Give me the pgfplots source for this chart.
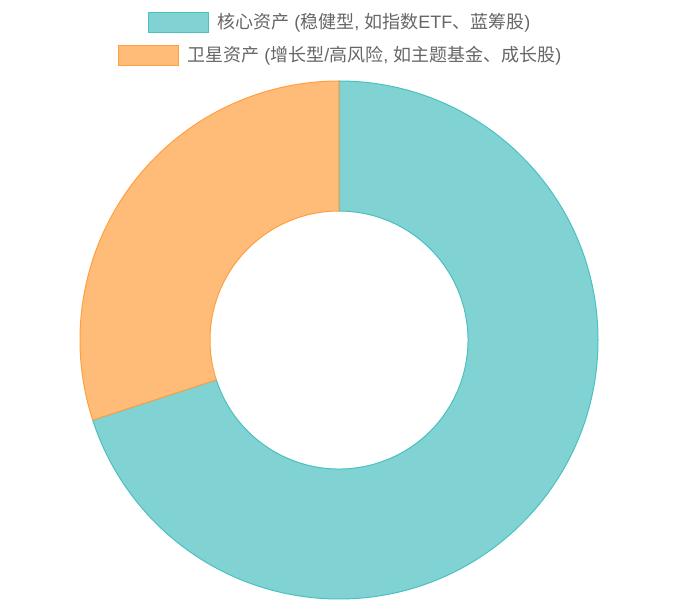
\documentclass[border=0pt]{standalone}
\usepackage{fontspec}
\setmainfont{Liberation Sans}
\newfontfamily\cjk{Noto Sans CJK SC}
\usepackage{pgfplots}
\usepackage{pgfplotstable}
\pgfplotsset{compat=1.18}
\definecolor{corefill}{HTML}{81D3D3}
\definecolor{coreline}{HTML}{4BC0C0}
\definecolor{satfill}{HTML}{FFBC79}
\definecolor{satline}{HTML}{FF9F40}
\definecolor{legtext}{HTML}{666666}

\pgfplotstableread{
part value
core 70
satellite 30
}\sharetable

\begin{document}
\begin{tikzpicture}
\pgfplotstablegetelem{0}{value}\of\sharetable \let\vcore\pgfplotsretval
\pgfplotstablegetelem{1}{value}\of\sharetable \let\vsat\pgfplotsretval
\pgfmathsetmacro{\total}{\vcore+\vsat}
% clockwise from the top, as in the source chart
\pgfmathsetmacro{\aA}{90}
\pgfmathsetmacro{\aB}{90-360*(\vcore/\total)}
\pgfmathsetmacro{\aC}{\aB-360*(\vsat/\total)}
\def\Rout{194.25pt}
\def\Rin{96.75pt}
\begin{axis}[
  x=0.75pt, y=0.75pt,
  xmin=0, xmax=679, ymin=0, ymax=600,
  hide axis, clip=false,
]
% keep the whole canvas in the bounding box
\path (axis cs:0,0) rectangle (axis cs:679,600);
\path (axis cs:339,260) coordinate (c);
\filldraw[fill=corefill, draw=coreline, line width=0.75pt]
  ([shift={(\aA:\Rout)}]c) arc[start angle=\aA, end angle=\aB, radius=\Rout]
  -- ([shift={(\aB:\Rin)}]c) arc[start angle=\aB, end angle=\aA, radius=\Rin] -- cycle;
\filldraw[fill=satfill, draw=satline, line width=0.75pt]
  ([shift={(\aB:\Rout)}]c) arc[start angle=\aB, end angle=\aC, radius=\Rout]
  -- ([shift={(\aC:\Rin)}]c) arc[start angle=\aC, end angle=\aB, radius=\Rin] -- cycle;
% legend
\filldraw[fill=corefill, draw=coreline, line width=0.75pt]
  (axis cs:148,567) rectangle (axis cs:208,587);
\node[anchor=west, inner sep=0pt, text=legtext, font=\fontsize{13.5}{15}\selectfont]
  at (axis cs:217,577) {{\cjk 核心资产} ({\cjk 稳健型}, {\cjk 如指数}ETF{\cjk 、蓝筹股})};
\filldraw[fill=satfill, draw=satline, line width=0.75pt]
  (axis cs:118,534) rectangle (axis cs:178,554);
\node[anchor=west, inner sep=0pt, text=legtext, font=\fontsize{13.5}{15}\selectfont]
  at (axis cs:187,544) {{\cjk 卫星资产} ({\cjk 增长型}/{\cjk 高风险}, {\cjk 如主题基金、成长股})};
\end{axis}
\end{tikzpicture}
\end{document}
